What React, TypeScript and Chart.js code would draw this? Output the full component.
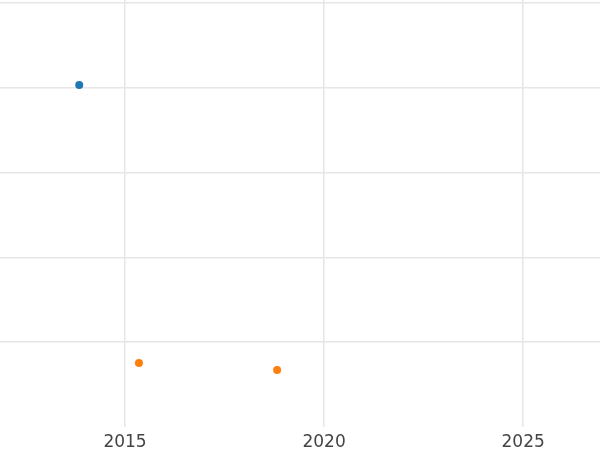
import React, { useEffect, useRef } from "react";
import { Chart, registerables } from "chart.js";

Chart.register(...registerables);

const seriesNames = ["A", "B"];
const seriesColors = ["#1f77b4", "#ff7f0e"];
const blueX = [2013.85];
const blueY = [4.035];
const orangeX = [2015.35, 2018.82];
const orangeY = [0.755, 0.673];
const xTicks = [2015, 2020, 2025];
const yTicks = [1, 2, 3, 4, 5];

export default function App() {
  const ref = useRef<HTMLCanvasElement | null>(null);
  useEffect(() => {
    if (!ref.current) return;
    const chart = new Chart(ref.current, {
      type: "scatter",
      data: {
        datasets: [
          {
            label: seriesNames[0],
            data: blueX.map((x, i) => ({ x, y: blueY[i] })),
            backgroundColor: seriesColors[0],
            borderColor: seriesColors[0],
            pointRadius: 4,
            borderWidth: 0,
          },
          {
            label: seriesNames[1],
            data: orangeX.map((x, i) => ({ x, y: orangeY[i] })),
            backgroundColor: seriesColors[1],
            borderColor: seriesColors[1],
            pointRadius: 4,
            borderWidth: 0,
          },
        ],
      },
      options: {
        animation: false,
        responsive: false,
        maintainAspectRatio: false,
        layout: { padding: 0, autoPadding: false },
        plugins: { legend: { display: false }, tooltip: { enabled: false } },
        scales: {
          x: {
            type: "linear",
            min: 2011.86,
            max: 2026.93,
            afterBuildTicks: (s: any) => {
              s.ticks = xTicks.map((v) => ({ value: v }));
            },
            afterFit: (s: any) => {
              s.height = 23;
            },
            grid: { color: "#e6e6e6", lineWidth: 1.5, drawTicks: false },
            border: { display: false },
            ticks: {
              padding: 5,
              color: "#444444",
              font: { family: "DejaVu Sans", size: 17 },
              callback: (v: any) => String(v),
              maxRotation: 0,
            },
          },
          y: {
            type: "linear",
            min: 0,
            max: 5.038,
            afterBuildTicks: (s: any) => {
              s.ticks = yTicks.map((v) => ({ value: v }));
            },
            grid: { color: "#e6e6e6", lineWidth: 1.5, drawTicks: false },
            border: { display: false },
            ticks: { display: false },
          },
        },
      },
    });
    return () => chart.destroy();
  }, []);
  return (
    <div style={{ position: "fixed", left: 0, top: 0, width: 600, height: 450, background: "#fff" }}>
      <canvas ref={ref} width={600} height={450} style={{ width: 600, height: 450 }} />
    </div>
  );
}
